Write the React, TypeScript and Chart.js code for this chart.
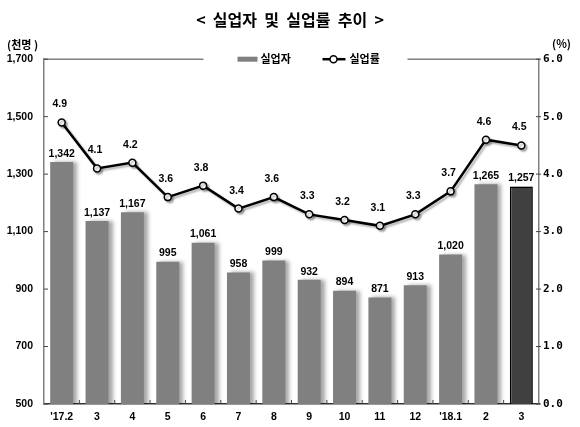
import React, { useEffect, useRef } from 'react';
import { Chart, registerables } from 'chart.js';

Chart.register(...registerables);

// 월별 데이터
const categories = ["'17.2", '3', '4', '5', '6', '7', '8', '9', '10', '11', '12', "'18.1", '2', '3'];
const unemployed = [1342, 1137, 1167, 995, 1061, 958, 999, 932, 894, 871, 913, 1020, 1265, 1257];
const unemploymentRate = [4.9, 4.1, 4.2, 3.6, 3.8, 3.4, 3.6, 3.3, 3.2, 3.1, 3.3, 3.7, 4.6, 4.5];

const leftRange = [500, 1700];
const leftStep = 200;
const rightRange = [0, 6];
const rightStep = 1;

const seriesNames = ['실업자', '실업률'];
const chartTitle = '<  실업자  및  실업률  추이  >';
const leftUnit = '(천명 )';
const rightUnit = '(%)';

const KR = '"Noto Sans CJK KR", "Noto Sans", sans-serif';
const NUM = '"Liberation Sans", Arial, sans-serif';
const AXIS = '#808080';

const barShadow = {
  id: 'barShadow',
  beforeDatasetDraw(chart: any, args: any) {
    const ctx = chart.ctx;
    ctx.save();
    if (args.index === 0) {
      ctx.shadowColor = 'rgba(0,0,0,0.35)';
      ctx.shadowOffsetX = 4;
      ctx.shadowOffsetY = 0;
      ctx.shadowBlur = 4;
    } else {
      ctx.shadowColor = 'rgba(0,0,0,0.3)';
      ctx.shadowOffsetX = 2;
      ctx.shadowOffsetY = 2;
      ctx.shadowBlur = 2;
    }
  },
  afterDatasetDraw(chart: any) {
    chart.ctx.restore();
  },
};

const valueLabels = {
  id: 'valueLabels',
  afterDatasetsDraw(chart: any) {
    const ctx = chart.ctx;
    ctx.save();
    ctx.fillStyle = '#000';
    ctx.font = `bold 10.5px ${NUM}`;
    ctx.textAlign = 'center';
    ctx.textBaseline = 'bottom';
    chart.getDatasetMeta(0).data.forEach((el: any, i: number) => {
      ctx.fillText(unemployed[i].toLocaleString('en-US'), el.x, el.y - 3);
    });
    ctx.textBaseline = 'middle';
    chart.getDatasetMeta(1).data.forEach((el: any, i: number) => {
      ctx.fillText(unemploymentRate[i].toFixed(1), el.x - 2, el.y - 18);
    });
    ctx.restore();
  },
};

const frame = {
  id: 'frame',
  afterDraw(chart: any) {
    const ctx = chart.ctx;
    const { left, right, top, bottom } = chart.chartArea;
    const x = chart.scales.x;
    const y = chart.scales.y;
    const y1 = chart.scales.y1;
    ctx.save();
    ctx.strokeStyle = AXIS;
    ctx.lineWidth = 1.5;
    // 상단 테두리
    ctx.beginPath();
    ctx.moveTo(left, top);
    ctx.lineTo(right, top);
    ctx.stroke();
    // 눈금
    ctx.lineWidth = 1;
    ctx.strokeStyle = '#444';
    y.ticks.forEach((t: any) => {
      const py = y.getPixelForValue(t.value);
      ctx.beginPath();
      ctx.moveTo(left, py);
      ctx.lineTo(left + 4, py);
      ctx.stroke();
    });
    y1.ticks.forEach((t: any) => {
      const py = y1.getPixelForValue(t.value);
      ctx.beginPath();
      ctx.moveTo(right - 3, py);
      ctx.lineTo(right + 2, py);
      ctx.stroke();
    });
    for (let i = 1; i < categories.length; i++) {
      const px = (x.getPixelForValue(i - 1) + x.getPixelForValue(i)) / 2;
      ctx.beginPath();
      ctx.moveTo(px, bottom);
      ctx.lineTo(px, bottom - 4);
      ctx.stroke();
    }

    // 단위
    ctx.fillStyle = '#000';
    ctx.font = `bold 11px ${KR}`;
    ctx.textBaseline = 'middle';
    ctx.textAlign = 'left';
    ctx.fillText(leftUnit, 7, top - 14);
    ctx.fillText(rightUnit, 552, top - 15);

    // 범례
    const cx = (left + right) / 2 + 14;
    ctx.fillStyle = '#fff';
    ctx.fillRect(cx - 102, top - 8, 204, 16);
    ctx.fillStyle = '#808080';
    ctx.fillRect(cx - 68, top - 2.5, 20, 5);
    ctx.fillStyle = '#000';
    ctx.fillText(seriesNames[0], cx - 45, top);
    ctx.strokeStyle = '#000';
    ctx.lineWidth = 2.5;
    ctx.beginPath();
    ctx.moveTo(cx + 17, top);
    ctx.lineTo(cx + 40, top);
    ctx.stroke();
    ctx.beginPath();
    ctx.arc(cx + 28, top, 3.5, 0, Math.PI * 2);
    ctx.fillStyle = '#fff';
    ctx.fill();
    ctx.lineWidth = 1.5;
    ctx.stroke();
    ctx.fillStyle = '#000';
    ctx.fillText(seriesNames[1], cx + 44, top);
    ctx.restore();
  },
};

const App: React.FC = () => {
  const chartRef = useRef<HTMLCanvasElement>(null);
  const chartInstance = useRef<Chart | null>(null);

  useEffect(() => {
    document.body.style.margin = '0';
    if (!chartRef.current) return;
    if (chartInstance.current) chartInstance.current.destroy();
    const ctx = chartRef.current.getContext('2d');
    if (!ctx) return;

    const last = categories.length - 1;

    chartInstance.current = new Chart(ctx, {
      type: 'bar',
      data: {
        labels: categories,
        datasets: [
          {
            type: 'bar',
            label: seriesNames[0],
            data: unemployed,
            yAxisID: 'y',
            order: 1,
            backgroundColor: categories.map((_, i) => (i === last ? '#404040' : '#808080')),
            borderColor: categories.map((_, i) => (i === last ? '#000000' : '#808080')),
            borderWidth: categories.map((_, i) => (i === last ? 1.5 : 0)),
            barPercentage: 0.65,
            categoryPercentage: 1,
          },
          {
            type: 'line',
            label: seriesNames[1],
            data: unemploymentRate,
            yAxisID: 'y1',
            order: 0,
            borderColor: '#000',
            borderWidth: 2.5,
            pointBackgroundColor: '#fff',
            pointBorderColor: '#000',
            pointBorderWidth: 1.5,
            pointRadius: 3.5,
            tension: 0,
          },
        ] as any,
      },
      options: {
        responsive: false,
        animation: false,
        layout: { padding: 0 },
        plugins: {
          legend: { display: false },
          tooltip: { enabled: false },
          title: {
            display: true,
            text: chartTitle,
            color: '#000',
            font: { family: KR, size: 16, weight: 'bold' },
            padding: { top: 10, bottom: 30 },
          },
        },
        scales: {
          x: {
            grid: { display: false, drawTicks: false },
            border: { display: true, color: '#333', width: 1.5 },
            ticks: { color: '#000', font: { family: NUM, size: 10.5, weight: 'bold' }, padding: 7, maxRotation: 0, autoSkip: false },
            afterFit: (s: any) => { s.height = 23; },
          },
          y: {
            position: 'left',
            min: leftRange[0],
            max: leftRange[1],
            grid: { display: false, drawTicks: false },
            border: { display: true, color: AXIS, width: 1.5 },
            ticks: {
              stepSize: leftStep,
              color: '#000',
              font: { family: NUM, size: 10.5, weight: 'bold' },
              padding: 11,
              callback: (v: any) => Number(v).toLocaleString('en-US'),
            },
            afterFit: (s: any) => { s.width = 44; },
          },
          y1: {
            position: 'right',
            min: rightRange[0],
            max: rightRange[1],
            grid: { display: false, drawTicks: false },
            border: { display: true, color: AXIS, width: 1.5 },
            ticks: {
              stepSize: rightStep,
              color: '#000',
              font: { family: '"DejaVu Sans Mono", monospace', size: 11, weight: 'bold' },
              padding: 4,
              callback: (v: any) => Number(v).toFixed(1),
            },
            afterFit: (s: any) => { s.width = 41; },
          },
        },
      } as any,
      plugins: [barShadow, valueLabels, frame],
    });

    return () => {
      if (chartInstance.current) {
        chartInstance.current.destroy();
        chartInstance.current = null;
      }
    };
  }, []);

  return (
    <div style={{ width: '580px', height: '427px' }}>
      <canvas ref={chartRef} width={580} height={427}></canvas>
    </div>
  );
};

export default App;
